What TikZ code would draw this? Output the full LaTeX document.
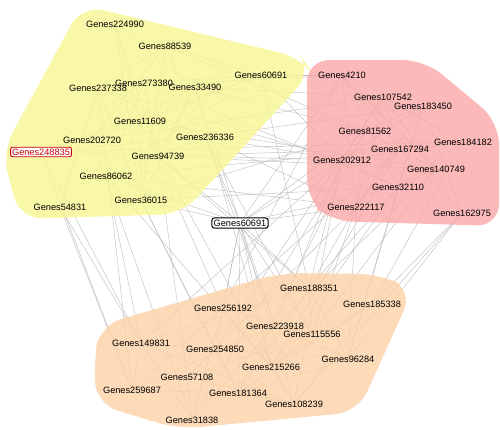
\documentclass[tikz,border=0pt]{standalone}
\usepackage{fontspec}
\setmainfont{Liberation Sans}
\pgfdeclarelayer{edges}
\pgfdeclarelayer{blobs}
\pgfsetlayers{edges,blobs,main}
\definecolor{yblob}{RGB}{248,246,150}
\definecolor{rblob}{RGB}{250,170,170}
\definecolor{oblob}{RGB}{252,210,168}
\definecolor{edgegray}{RGB}{192,192,192}
\definecolor{selred}{RGB}{200,0,0}
\begin{document}
\begin{tikzpicture}[x=1pt,y=-1pt,
  gene/.style={font=\fontsize{9.2}{10}\selectfont, inner sep=1pt},
  selbox/.style={gene, draw=selred, text=selred, fill=white, rounded corners=2pt, line width=0.9pt, inner sep=1.5pt},
  ctrbox/.style={gene, draw=black, fill=white, rounded corners=2.5pt, line width=1pt, inner sep=1.8pt},
  link/.style={draw=edgegray, line width=0.45pt},
  blob/.style={rounded corners=22pt, fill opacity=0.82}]
\useasboundingbox (0,0) rectangle (500,429);
% yellow cluster
\node[gene] (y1) at (115,24) {Genes224990};
\node[gene] (y2) at (165,46) {Genes88539};
\node[gene] (y3) at (98,88) {Genes237338};
\node[gene] (y4) at (144,83) {Genes273380};
\node[gene] (y5) at (195,87) {Genes33490};
\node[gene] (y6) at (261,75) {Genes60691};
\node[gene] (y7) at (140,121) {Genes11609};
\node[gene] (y8) at (92,140) {Genes202720};
\node[gene] (y9) at (205,137) {Genes236336};
\node[selbox] (y10) at (41,152) {Genes248835};
\node[gene] (y11) at (158,156) {Genes94739};
\node[gene] (y12) at (106,176) {Genes86062};
\node[gene] (y13) at (141,200) {Genes36015};
\node[gene] (y14) at (60,207) {Genes54831};
% red cluster
\node[gene] (r1) at (342,75) {Genes4210};
\node[gene] (r2) at (383,97) {Genes107542};
\node[gene] (r3) at (423,106) {Genes183450};
\node[gene] (r4) at (365,131) {Genes81562};
\node[gene] (r5) at (463,142) {Genes184182};
\node[gene] (r6) at (400,149) {Genes167294};
\node[gene] (r7) at (342,160) {Genes202912};
\node[gene] (r8) at (436,169) {Genes140749};
\node[gene] (r9) at (398,187) {Genes32110};
\node[gene] (r10) at (356,207) {Genes222117};
\node[gene] (r11) at (462,213) {Genes162975};
% centre
\node[ctrbox] (c) at (240,223) {Genes60691};
% orange cluster
\node[gene] (o1) at (309,288) {Genes188351};
\node[gene] (o2) at (372,304) {Genes185338};
\node[gene] (o3) at (223,308) {Genes256192};
\node[gene] (o4) at (275,326) {Genes223918};
\node[gene] (o5) at (312,334) {Genes115556};
\node[gene] (o6) at (141,343) {Genes149831};
\node[gene] (o7) at (215,349) {Genes254850};
\node[gene] (o8) at (348,359) {Genes96284};
\node[gene] (o9) at (271,367) {Genes215266};
\node[gene] (o10) at (187,377) {Genes57108};
\node[gene] (o11) at (132,390) {Genes259687};
\node[gene] (o12) at (238,393) {Genes181364};
\node[gene] (o13) at (294,404) {Genes108239};
\node[gene] (o14) at (192,420) {Genes31838};
\begin{pgfonlayer}{edges}
\foreach \a/\b in {
 y1/y7,y1/y11,y1/y13,y2/y3,y2/y8,y2/y11,y2/y9,y2/y6,y3/y9,y3/y13,y4/y11,y4/y12,y5/y8,y5/y13,
 y6/y8,y6/y12,y7/y9,y8/y11,y10/y9,y10/y6,y12/y9,y13/y7,y14/y3,y5/y11,y4/y6,y10/y4,y1/y5,y2/y13,
 y6/r1,y5/r4,y9/r7,y10/r7,y11/r6,y8/r2,y4/r9,y7/r8,y9/r3,y3/r1,y12/r10,y13/r9,y2/r4,y10/r5,y11/r8,
 y6/r7,y9/r10,y5/r2,y12/r6,y13/r4,y3/r7,
 r1/r6,r1/r9,r1/r8,r2/r7,r2/r10,r2/r5,r3/r4,r3/r7,r3/r9,r3/r11,r4/r8,r4/r10,r5/r7,r6/r10,r6/r11,
 r8/r9,r7/r9,r2/r8,r3/r10,r1/r10,r5/r9,r2/r6,
 c/y13,c/y9,c/r7,c/r10,c/o1,c/o4,c/o9,c/o12,c/y11,c/r4,c/o3,c/o5,c/r9,c/y5,c/o7,c/r1,c/y12,c/o13,
 y14/o11,y12/o6,y13/o7,y11/o10,y9/o4,y8/o14,y10/o6,y13/o12,y11/o1,y12/o9,y3/o11,y7/o3,y14/o6,
 y9/o5,y5/o9,y6/o1,y11/o13,y10/o11,
 r10/o1,r10/o5,r7/o4,r9/o8,r11/o2,r8/o5,r7/o13,r9/o9,r4/o12,r6/o3,r10/o8,r11/o13,r5/o2,r2/o7,
 r7/o6,r10/o10,r1/o3,r9/o1,r8/o4,r6/o9,r3/o8,r4/o14,r11/o8,r7/o1,
 o1/o5,o1/o8,o1/o12,o2/o5,o2/o13,o3/o9,o3/o11,o4/o8,o4/o14,o5/o9,o6/o7,o6/o11,o6/o14,o7/o12,
 o7/o8,o9/o13,o10/o13,o10/o14,o11/o12,o12/o13,o5/o10,o1/o6,o2/o12,o3/o14,o4/o11,o6/o13,o8/o12,
 o3/o5,o2/o9,o7/o10}
 \draw[link] (\a.center) -- (\b.center);
\end{pgfonlayer}
\begin{pgfonlayer}{blobs}
\fill[blob, yblob] (82,5) -- (302,58) -- (312,72) -- (182,214) -- (20,219) -- (2,152) -- cycle;
\fill[blob, rblob] (307,60) -- (425,60) -- (499,122) -- (499,226) -- (330,221) -- (307,200) -- cycle;
\fill[blob, oblob] (100,325) -- (280,273) -- (380,274) -- (413,290) -- (358,412) -- (178,429) -- (96,404) -- (94,360) -- cycle;
\end{pgfonlayer}
\end{tikzpicture}
\end{document}
